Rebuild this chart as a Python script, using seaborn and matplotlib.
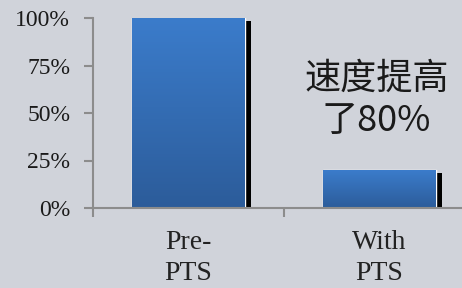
import numpy as np
import pandas as pd
import matplotlib
matplotlib.use("Agg")
import matplotlib.pyplot as plt
import matplotlib.patheffects as pe
from matplotlib.colors import LinearSegmentedColormap
import seaborn as sns

# chart data
categories = ["Pre-\nPTS", "With\nPTS"]
values = [100, 20]
y_ticks = [0, 25, 50, 75, 100]
y_tick_labels = ["0%", "25%", "50%", "75%", "100%"]
note_text = "速度提高\n了80%"

bg = "#D0D3DA"
axis_gray = "#8C8C8C"
grad = LinearSegmentedColormap.from_list("bar", ["#2C5C9A", "#3B7CCB"])
serif = ["Liberation Serif", "DejaVu Serif"]

sns.set_theme(style="white")
plt.rcParams["font.family"] = serif

fig = plt.figure(figsize=(4.62, 2.88), dpi=100, facecolor=bg)
# axes spans from the y axis (x=93px) to the right edge
ax = fig.add_axes([93 / 462, 80 / 288, 1 - 93 / 462, 190 / 288])
ax.set_facecolor(bg)

df = pd.DataFrame({"cat": categories, "val": values})
sns.barplot(data=df, x="cat", y="val", ax=ax, width=0.59, color="#3370B8",
            saturation=1)

# gradient fill + offset black shadow on each bar
for patch in ax.patches:
    patch.set_path_effects([
        pe.SimplePatchShadow(offset=(4.6, -2.2), shadow_rgbFace="black", alpha=1.0),
        pe.Normal(),
    ])
    x0, y0 = patch.get_x(), patch.get_y()
    w, h = patch.get_width(), patch.get_height()
    img = ax.imshow(np.linspace(0, 1, 256).reshape(-1, 1), cmap=grad,
                    origin="lower", aspect="auto",
                    extent=(x0, x0 + w, y0, y0 + h), zorder=patch.get_zorder() + 0.1)
    img.set_clip_path(patch)
ax.set_xlim(-0.5, -0.5 + 369 / 191)
ax.set_ylim(0, 100)

# axes styling
for s in ["top", "right"]:
    ax.spines[s].set_visible(False)
for s in ["left", "bottom"]:
    ax.spines[s].set_color(axis_gray)
    ax.spines[s].set_linewidth(1.5)
    ax.spines[s].set_zorder(5)

ax.set_yticks(y_ticks)
ax.set_yticklabels(y_tick_labels, fontsize=17, color="#1A1A1A", family=serif)
ax.tick_params(axis="y", direction="out", length=6.5, width=1.5, color=axis_gray,
               pad=10, left=True)

# category boundaries carry the ticks, labels sit at the centres
ax.set_xticks([-0.5, 0.5])
ax.set_xticklabels(["", ""])
ax.set_xticks([0, 1], minor=True)
ax.set_xticklabels(categories, minor=True, fontsize=20, color="#222222",
                   linespacing=1.3, family=serif)
ax.tick_params(axis="x", which="major", direction="out", length=6.5, width=1.5,
               color=axis_gray, bottom=True)
ax.tick_params(axis="x", which="minor", length=0, pad=16)
ax.set_xlabel("")
ax.set_ylabel("")

ax.text(0.985, 57, note_text, ha="center", va="center", fontsize=26,
        color="#1A1A1A", linespacing=1.2,
        family=["Noto Sans CJK SC", "DejaVu Sans"])

fig.savefig("out.png", dpi=100, facecolor=bg)
